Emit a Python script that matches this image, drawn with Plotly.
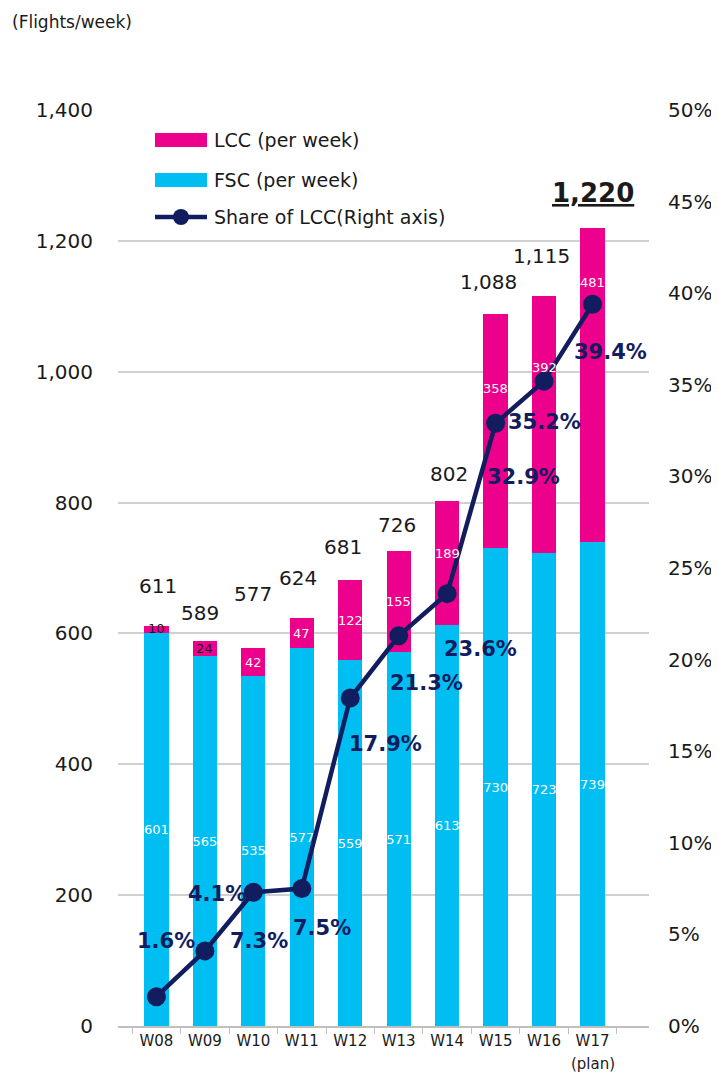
import plotly.graph_objects as go

# ---------------- data ----------------
weeks = ["W08", "W09", "W10", "W11", "W12", "W13", "W14", "W15", "W16", "W17"]
fsc = [601, 565, 535, 577, 559, 571, 613, 730, 723, 739]
lcc = [10, 24, 42, 47, 122, 155, 189, 358, 392, 481]
share = [1.6, 4.1, 7.3, 7.5, 17.9, 21.3, 23.6, 32.9, 35.2, 39.4]
totals = [f + l for f, l in zip(fsc, lcc)]
left_ticks = [0, 200, 400, 600, 800, 1000, 1200, 1400]
right_ticks = [0, 5, 10, 15, 20, 25, 30, 35, 40, 45, 50]
right_tick_labels = [f"{v}%" for v in right_ticks]

# ---------------- label placement (pixel offsets) ----------------
total_dy = [40, 28, 54, 40, 33, 26, 27, 32, 40, 35]
total_dx = [2, -5, 0, -4, -7, -2, 2, -7, -3, 0]
lcc_dy = [1, 0, 0, 0, 0, 0, 10, 43, 57, 103]
lcc_dark = [True, True, False, False, False, False, False, False, False, False]
share_dx = [10, 12, 6, 20, 35, 28, 33, 28, 0, 18]
share_dy = [56, 57, -49, -39, -46, -47, -55, -54, -41, -48]

MAGENTA = "#EC008C"
CYAN = "#00BEF2"
NAVY = "#111D5E"
TXT = "#1a1a1a"
FONT = "DejaVu Sans"

# the page body adds an 8px margin; figure is sized so it ends at the window edge
OFF = 8
W, H = 719 - OFF, 1074 - OFF
ML, MR, MT, MB = 118 - OFF, 70, 110 - OFF, 48
PW, PH = W - ML - MR, H - MT - MB


def xp(px):  # page pixel x -> paper
    return (px - OFF - ML) / PW


def yp(py):  # page pixel y -> paper
    return (H - MB - (py - OFF)) / PH


fig = go.Figure()

fig.add_trace(go.Bar(
    x=weeks, y=fsc, name="FSC (per week)", marker=dict(color=CYAN, line=dict(width=0)),
    width=0.5, text=[str(v) for v in fsc], textposition="inside",
    insidetextanchor="middle", textangle=0, constraintext="none",
    textfont=dict(color="white", size=13, family=FONT), showlegend=False,
    hoverinfo="skip"))
fig.add_trace(go.Bar(
    x=weeks, y=lcc, name="LCC (per week)", marker=dict(color=MAGENTA, line=dict(width=0)),
    width=0.5, showlegend=False, hoverinfo="skip"))
fig.add_trace(go.Scatter(
    x=weeks, y=share, yaxis="y2", mode="lines+markers", name="Share of LCC(Right axis)",
    line=dict(color=NAVY, width=4.5), marker=dict(color=NAVY, size=19),
    showlegend=False, hoverinfo="skip"))

ann = []
# totals
for i, w in enumerate(weeks):
    txt = f"{totals[i]:,}"
    if i == len(weeks) - 1:
        txt = f"<b><u>{txt}</u></b>"
        fs = 26
    else:
        fs = 20
    ann.append(dict(x=w, y=totals[i], xref="x", yref="y", text=txt, showarrow=False,
                    xanchor="center", yanchor="middle", yshift=total_dy[i], xshift=total_dx[i],
                    font=dict(size=fs, color=TXT, family=FONT)))
# LCC segment labels
for i, w in enumerate(weeks):
    ann.append(dict(x=w, y=fsc[i] + lcc[i] / 2, xref="x", yref="y", text=str(lcc[i]),
                    showarrow=False, xanchor="center", yanchor="middle", yshift=lcc_dy[i],
                    font=dict(size=13, color=TXT if lcc_dark[i] else "white", family=FONT)))
# share labels
for i, w in enumerate(weeks):
    ann.append(dict(x=w, y=share[i], xref="x", yref="y2", text=f"<b>{share[i]:.1f}%</b>",
                    showarrow=False, xanchor="center", yanchor="middle",
                    xshift=share_dx[i], yshift=share_dy[i],
                    font=dict(size=21, color=NAVY, family=FONT)))
# unit label and (plan)
ann.append(dict(x=xp(10), y=yp(22), xref="paper", yref="paper", text="(Flights/week)",
                showarrow=False, xanchor="left", yanchor="middle",
                font=dict(size=17, color=TXT, family=FONT)))
ann.append(dict(x=weeks[-1], y=yp(1064), xref="x", yref="paper", text="(plan)",
                showarrow=False, xanchor="center", yanchor="middle",
                font=dict(size=15, color=TXT, family=FONT)))

# manual legend
legend_items = [("LCC (per week)", 140), ("FSC (per week)", 180), ("Share of LCC(Right axis)", 217)]
shapes = [
    dict(type="rect", xref="paper", yref="paper", x0=xp(155), x1=xp(207), y0=yp(147), y1=yp(133),
         fillcolor=MAGENTA, line=dict(width=0)),
    dict(type="rect", xref="paper", yref="paper", x0=xp(155), x1=xp(207), y0=yp(187), y1=yp(173),
         fillcolor=CYAN, line=dict(width=0)),
    dict(type="line", xref="paper", yref="paper", x0=xp(155), x1=xp(207), y0=yp(217), y1=yp(217),
         line=dict(color=NAVY, width=4.5)),
    dict(type="circle", xref="paper", yref="paper", x0=xp(173), x1=xp(189), y0=yp(225), y1=yp(209),
         fillcolor=NAVY, line=dict(width=0)),
]
for label, py in legend_items:
    ann.append(dict(x=xp(212), y=yp(py), xref="paper", yref="paper", text=label,
                    showarrow=False, xanchor="left", yanchor="middle",
                    font=dict(size=19, color=TXT, family=FONT)))

fig.update_layout(
    width=W, height=H,
    margin=dict(l=ML, r=MR, t=MT, b=MB, pad=0, autoexpand=False),
    paper_bgcolor="white", plot_bgcolor="white",
    barmode="stack", bargap=0.5,
    font=dict(family=FONT, color=TXT),
    showlegend=False,
    xaxis=dict(type="category", showline=True, linecolor="#bfbfbf", linewidth=1.5,
               ticks="outside", tickson="boundaries", ticklen=6, tickcolor="#bfbfbf",
               tickfont=dict(size=15, color=TXT, family=FONT), showgrid=False, zeroline=False,
               automargin=False),
    yaxis=dict(range=[0, 1400], tickvals=left_ticks, tickformat=",", showgrid=True,
               gridcolor="#d0d0d0", gridwidth=1.5, zeroline=False, showline=False,
               tickfont=dict(size=20, color=TXT, family=FONT), ticklabelstandoff=24,
               automargin=False),
    yaxis2=dict(range=[0, 50], tickmode="array", tickvals=right_ticks, ticktext=right_tick_labels,
                overlaying="y", side="right", showgrid=False, zeroline=False, showline=False,
                tickfont=dict(size=20, color=TXT, family=FONT), ticklabelstandoff=18,
                automargin=False),
    annotations=ann, shapes=shapes,
)

fig.write_html("out.html")
